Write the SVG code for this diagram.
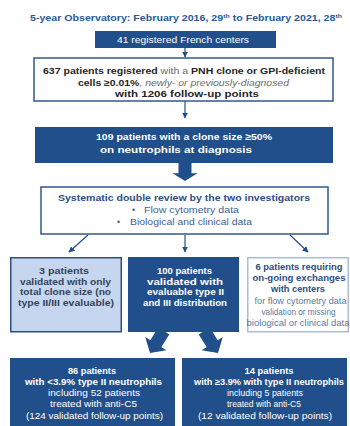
<svg xmlns="http://www.w3.org/2000/svg" width="350" height="426" viewBox="0 0 350 426">
<style>
text{font-family:"Liberation Sans",Arial,sans-serif;text-anchor:middle}
text.s{text-anchor:start}
.dark{fill:#214f8b}
.b{font-weight:bold}
.w{fill:#ffffff}
.gr{fill:#6b6b6b;font-weight:normal}
</style>
<defs>
<marker id="ah" viewBox="0 0 10 10" refX="9" refY="5" markerWidth="5" markerHeight="5" orient="auto-start-reverse">
<path d="M0,0 L10,5 L0,10 z" fill="#214f8b"/>
</marker>
<path id="blk" d="M-6.5,-26 L6.5,-26 L6.5,-11 L12.5,-11 L0,0 L-12.5,-11 L-6.5,-11 z" fill="#214f8b"/>
</defs>
<rect width="350" height="426" fill="#ffffff"/>
<text x="186" y="21" class="b" font-size="9.2px" fill="#2b5a94" textLength="312" lengthAdjust="spacingAndGlyphs">5-year Observatory: February 2016, 29<tspan font-size="6px" dy="-3">th</tspan><tspan dy="3"> to February 2021, 28</tspan><tspan font-size="6px" dy="-3">th</tspan></text>

<g id="connectors" stroke="#214f8b" stroke-width="1.2" fill="none">
<line x1="185" y1="48" x2="185" y2="57" marker-end="url(#ah)"/>
<line x1="185" y1="101" x2="185" y2="118" marker-end="url(#ah)"/>
<use href="#blk" transform="translate(185,181) scale(1,0.7)" stroke="none"/>
<line x1="88" y1="235" x2="69" y2="252" marker-end="url(#ah)"/>
<line x1="185" y1="235" x2="185" y2="252" marker-end="url(#ah)"/>
<line x1="290" y1="235" x2="308" y2="252" marker-end="url(#ah)"/>
<use href="#blk" transform="translate(150,353) rotate(32)" stroke="none"/>
<use href="#blk" transform="translate(218,353) rotate(-32)" stroke="none"/>
</g>

<g id="n41">
<rect x="95" y="31" width="181" height="17" class="dark"/>
<text x="183" y="43" class="w" font-size="8.8px" textLength="132" lengthAdjust="spacingAndGlyphs">41 registered French centers</text>
</g>

<g id="n637">
<rect x="34" y="58" width="299" height="43" fill="#ffffff" stroke="#2f5a93" stroke-width="1.5"/>
<text x="184" y="74" class="b" font-size="9px" fill="#262626" textLength="282" lengthAdjust="spacingAndGlyphs">637 patients registered<tspan class="gr"> with a </tspan>PNH clone or GPI-deficient</text>
<text x="183.5" y="85.5" class="b" font-size="9px" fill="#262626" textLength="211" lengthAdjust="spacingAndGlyphs">cells ≥0.01%<tspan class="gr" font-style="italic">, newly- or previously-diagnosed</tspan></text>
<text x="187" y="97" class="b" font-size="9px" fill="#262626" textLength="144" lengthAdjust="spacingAndGlyphs">with 1206 follow-up points</text>
</g>

<g id="n109">
<rect x="35" y="127" width="298" height="36" class="dark"/>
<text x="184" y="140" class="b w" font-size="9.3px" textLength="176" lengthAdjust="spacingAndGlyphs">109 patients with a clone size ≥50%</text>
<text x="176" y="153" class="b w" font-size="9.3px" textLength="152" lengthAdjust="spacingAndGlyphs">on neutrophils at diagnosis</text>
</g>

<g id="review">
<rect x="41" y="187" width="287" height="47" fill="#ffffff" stroke="#2f5a93" stroke-width="1.5"/>
<text x="184" y="201" class="b" font-size="9.3px" fill="#2d4f7f" textLength="252" lengthAdjust="spacingAndGlyphs">Systematic double review by the two investigators</text>
<g font-size="8.8px" fill="#3f5f90">
<text x="132" y="213" class="s">•</text>
<text x="144" y="213" class="s" textLength="95" lengthAdjust="spacingAndGlyphs">Flow cytometry data</text>
<text x="117" y="225" class="s">•</text>
<text x="130" y="225" class="s" textLength="122" lengthAdjust="spacingAndGlyphs">Biological and clinical data</text>
</g>
</g>

<g id="n3">
<rect x="10.75" y="257.75" width="110.5" height="74" fill="#c6d6ee" stroke="#2f4f7a" stroke-width="1.5"/>
<g class="b" font-size="8.9px" fill="#34445a">
<text x="64" y="274" textLength="50" lengthAdjust="spacingAndGlyphs">3 patients</text>
<text x="65.5" y="284.5" textLength="91" lengthAdjust="spacingAndGlyphs">validated with only</text>
<text x="65.5" y="295" textLength="91" lengthAdjust="spacingAndGlyphs">total clone size (no</text>
<text x="66" y="305.5" textLength="96" lengthAdjust="spacingAndGlyphs">type II/III evaluable)</text>
</g>
</g>

<g id="n100">
<rect x="128" y="257" width="111" height="75" class="dark"/>
<g class="b w" font-size="8.9px">
<text x="184.5" y="274" textLength="55" lengthAdjust="spacingAndGlyphs">100 patients</text>
<text x="185" y="284.5" textLength="76" lengthAdjust="spacingAndGlyphs">validated with</text>
<text x="185.5" y="295" textLength="77" lengthAdjust="spacingAndGlyphs">evaluable type II</text>
<text x="185" y="305.5" textLength="84" lengthAdjust="spacingAndGlyphs">and III distribution</text>
</g>
</g>

<g id="n6">
<rect x="247.75" y="257.75" width="100.5" height="74" fill="#ffffff" stroke="#a9bcd8" stroke-width="1.5"/>
<g class="b" font-size="8.9px" fill="#2c4f80">
<text x="299" y="270" textLength="87" lengthAdjust="spacingAndGlyphs">6 patients requiring</text>
<text x="299" y="281" textLength="93" lengthAdjust="spacingAndGlyphs">on-going exchanges</text>
<text x="298" y="292" textLength="54" lengthAdjust="spacingAndGlyphs">with centers</text>
</g>
<g font-size="8.2px" fill="#5a7aa8">
<text x="300.5" y="303.5" textLength="92" lengthAdjust="spacingAndGlyphs">for flow cytometry data</text>
<text x="298.5" y="314.5" textLength="74" lengthAdjust="spacingAndGlyphs">validation or missing</text>
<text x="298" y="325.5" textLength="103" lengthAdjust="spacingAndGlyphs">biological or clinical data</text>
</g>
</g>

<g id="n86">
<rect x="10" y="358" width="165" height="70" class="dark"/>
<g class="w" font-size="8.8px">
<text x="92" y="374" class="b" textLength="48" lengthAdjust="spacingAndGlyphs">86 patients</text>
<text x="93.5" y="385" class="b" textLength="137" lengthAdjust="spacingAndGlyphs">with &lt;3.9% type II neutrophils</text>
<text x="94" y="396" textLength="92" lengthAdjust="spacingAndGlyphs">including 52 patients</text>
<text x="93.5" y="407" textLength="87" lengthAdjust="spacingAndGlyphs">treated with anti-C5</text>
<text x="94.5" y="418.5" textLength="137" lengthAdjust="spacingAndGlyphs">(124 validated follow-up points)</text>
</g>
</g>

<g id="n14">
<rect x="182" y="358" width="165" height="70" class="dark"/>
<g class="w" font-size="8.8px">
<text x="269" y="374" class="b" textLength="49" lengthAdjust="spacingAndGlyphs">14 patients</text>
<text x="269" y="385" class="b" textLength="150" lengthAdjust="spacingAndGlyphs">with ≥3.9% with type II neutrophils</text>
<text x="265" y="396" textLength="76" lengthAdjust="spacingAndGlyphs">including 5 patients</text>
<text x="264" y="407" textLength="74" lengthAdjust="spacingAndGlyphs">treated with anti-C5</text>
<text x="265" y="418.5" textLength="134" lengthAdjust="spacingAndGlyphs">(12 validated follow-up points)</text>
</g>
</g>
</svg>
